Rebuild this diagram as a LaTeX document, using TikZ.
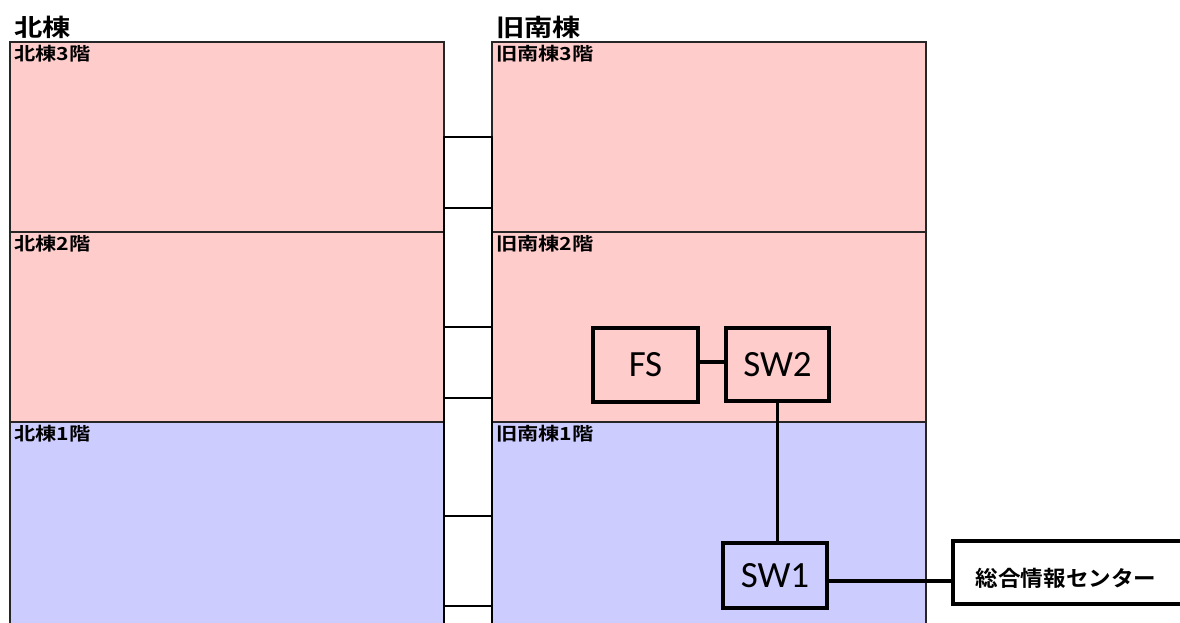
\documentclass[tikz,border=0pt]{standalone}
\usepackage{fontspec}
\setmainfont{Carlito}
\newfontfamily\jpb{Noto Sans CJK JP Bold}[FakeStretch=1.18]
\newfontfamily\jpc{Noto Sans CJK JP Bold}[FakeStretch=1.05]
\definecolor{floorpink}{HTML}{FFCCCC}
\definecolor{floorblue}{HTML}{CCCCFF}
\begin{document}
\begin{tikzpicture}[x=1pt,y=-1pt,
  floor/.style={draw=black!85, line width=1.4pt, inner sep=0pt, outer sep=0pt, anchor=north west, minimum width=434pt},
  corr/.style={draw=black, line width=2.2pt, fill=white, inner sep=0pt, outer sep=0pt, anchor=north west, minimum width=48pt},
  flabel/.style={anchor=north west, inner sep=0pt, font=\jpb\fontsize{18}{18}\selectfont},
  title/.style={anchor=south west, inner sep=0pt, font=\jpb\fontsize{24}{24}\selectfont},
  dev/.style={draw=black, line width=3.3pt, inner sep=0pt, outer sep=0pt, font=\fontsize{37}{37}\selectfont},
  link/.style={line width=3.3pt}]
\useasboundingbox (0,0) rectangle (1180,622);
% floors
\node[floor, fill=floorpink, minimum height=190pt] (n3) at (10,42) {};
\node[floor, fill=floorpink, minimum height=190pt] (n2) at (10,232) {};
\node[floor, fill=floorblue, minimum height=220pt] (n1) at (10,422) {};
\node[floor, fill=floorpink, minimum height=190pt] (s3) at (492,42) {};
\node[floor, fill=floorpink, minimum height=190pt] (s2) at (492,232) {};
\node[floor, fill=floorblue, minimum height=220pt] (s1) at (492,422) {};
% corridor
\node[corr, minimum height=71pt] (c3) at (444,137) {};
\node[corr, minimum height=71pt] (c2) at (444,327) {};
\node[corr, minimum height=90pt] (c1) at (444,516) {};
\draw[line width=2.2pt] (c3.south west) -- (c2.north west) (c3.south east) -- (c2.north east)
  (c2.south west) -- (c1.north west) (c2.south east) -- (c1.north east)
  (c1.south west) -- ++(0,30) (c1.south east) -- ++(0,30);
% titles
\node[title] (tn) at (14,39) {北棟};
\node[title] (ts) at (496,39) {旧南棟};
% floor labels
\node[flabel] (ln3) at (14,45) {北棟3階};
\node[flabel] (ln2) at (14,235) {北棟2階};
\node[flabel] (ln1) at (14,425) {北棟1階};
\node[flabel] (ls3) at (496,45) {旧南棟3階};
\node[flabel] (ls2) at (496,235) {旧南棟2階};
\node[flabel] (ls1) at (496,425) {旧南棟1階};
% devices
\node[dev, minimum width=105pt, minimum height=74pt] (fs) at (645.5,365) {FS};
\node[dev, minimum width=103pt, minimum height=73pt] (sw2) at (777.5,364.5) {SW2};
\node[dev, minimum width=104pt, minimum height=65pt] (sw1) at (775,575.5) {SW1};
\node[draw=black, line width=3.3pt, inner sep=0pt, outer sep=0pt, anchor=north west, minimum width=232pt, minimum height=63pt] (center) at (953,541) {};
\node[inner sep=0pt, font=\jpc\fontsize{21.5}{21.5}\selectfont] (centertext) at (1066,578) {総合情報センター};
% links
\draw[link] (fs.east |- 0,362) -- (sw2.west |- 0,362);
\draw[link] (sw2.south) -- (sw2.south |- sw1.north);
\draw[link] (sw1.east |- 0,581) -- (center.west |- 0,581);
\end{tikzpicture}
\end{document}
